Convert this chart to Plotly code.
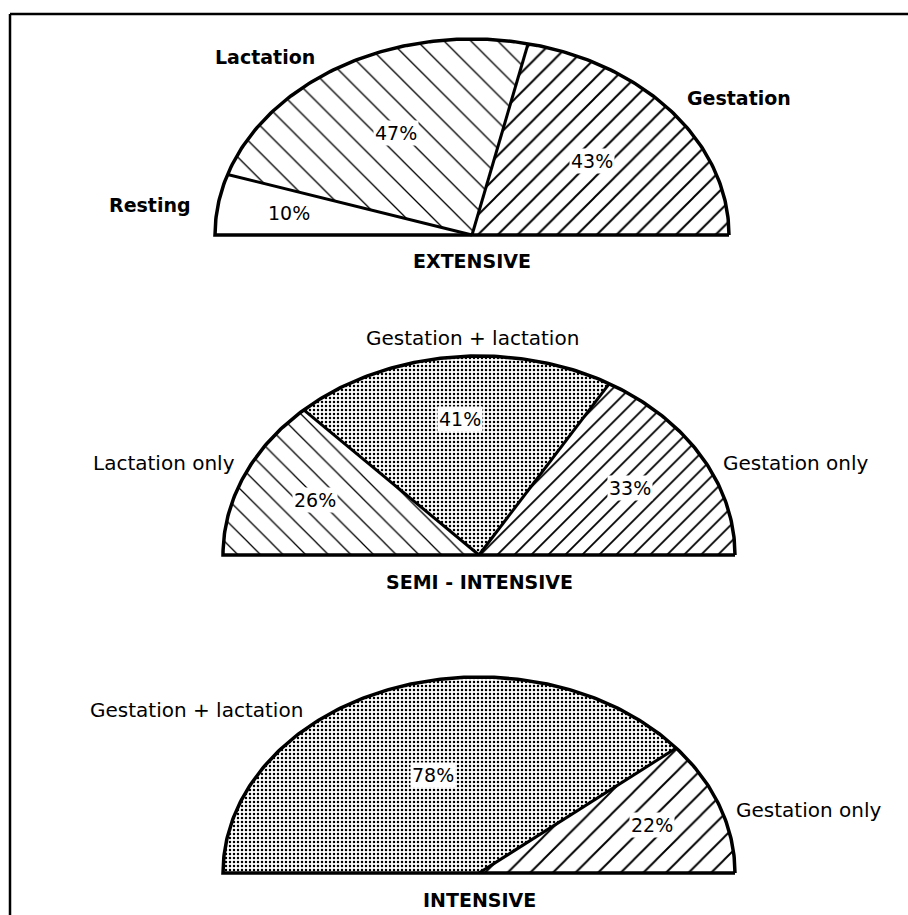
import numpy as np
import plotly.graph_objects as go

# ---------------- data ----------------
extensive_labels = ["Resting", "Lactation", "Gestation"]
extensive_values = [10, 47, 43]

semi_labels = ["Lactation only", "Gestation + lactation", "Gestation only"]
semi_values = [26, 41, 33]

intensive_labels = ["Gestation + lactation", "Gestation only"]
intensive_values = [78, 22]

chart_titles = ["EXTENSIVE", "SEMI - INTENSIVE", "INTENSIVE"]

# ---------------- styles / layout ----------------
W, H = 908, 915
FONT = "DejaVu Sans"

NONE = None
BACK = dict(shape="\\", size=19, solidity=0.07)
BACK2 = dict(shape="\\", size=16, solidity=0.08)
FWD = dict(shape="/", size=14, solidity=0.14)
FWD2 = dict(shape="/", size=12, solidity=0.15)
FWD3 = dict(shape="/", size=16, solidity=0.12)
DOTS = dict(shape=".", size=4, solidity=0.3)

charts = [
    dict(labels=extensive_labels, values=extensive_values, title=chart_titles[0],
         cx=472, cy=235, rx=257, ry=196,
         patterns=[NONE, BACK, FWD], label_r=[0.72, 0.6, 0.6],
         title_y=261, title_bold=True,
         names=[dict(x=193, y=205, xanchor="right"),
                dict(x=265, y=57, xanchor="center"),
                dict(x=685, y=98, xanchor="left")],
         name_bold=True, name_size=19),
    dict(labels=semi_labels, values=semi_values, title=chart_titles[1],
         cx=479, cy=555, rx=256, ry=199,
         patterns=[BACK2, DOTS, FWD2], label_r=[0.7, 0.69, 0.68],
         title_y=582, title_bold=True,
         names=[dict(x=237, y=463, xanchor="right"),
                dict(x=472, y=338, xanchor="center"),
                dict(x=721, y=463, xanchor="left")],
         name_bold=False, name_size=20),
    dict(labels=intensive_labels, values=intensive_values, title=chart_titles[2],
         cx=479, cy=873, rx=256, ry=196,
         patterns=[DOTS, FWD3], label_r=[0.53, 0.72],
         title_y=900, title_bold=True,
         names=[dict(x=305, y=710, xanchor="right"),
                dict(x=734, y=810, xanchor="left")],
         name_bold=False, name_size=20),
]

fig = go.Figure()
annotations = []

def ell(cx, cy, rx, ry, th):
    return cx + rx * np.cos(th), cy - ry * np.sin(th)

for ch in charts:
    cx, cy, rx, ry = ch["cx"], ch["cy"], ch["rx"], ch["ry"]
    total = float(sum(ch["values"]))
    start = np.pi  # slices run left (180deg) to right (0deg)
    bounds = []
    for i, v in enumerate(ch["values"]):
        sweep = np.pi * v / total
        a0, a1 = start, start - sweep
        th = np.linspace(a0, a1, 120)
        ax, ay = ell(cx, cy, rx, ry, th)
        xs = np.concatenate([[cx], ax, [cx]])
        ys = np.concatenate([[cy], ay, [cy]])
        pat = ch["patterns"][i]
        kw = dict(x=xs, y=ys, mode="lines", fill="toself", line=dict(width=0, color="black"),
                  fillcolor="white", hoverinfo="skip", showlegend=False)
        if pat is not None:
            kw["fillpattern"] = dict(shape=pat["shape"], size=pat["size"], solidity=pat["solidity"],
                                     fgcolor="black", bgcolor="white", fillmode="replace")
        fig.add_trace(go.Scatter(**kw))
        # percentage label at mid-angle
        mid = (a0 + a1) / 2
        lx, ly = ell(cx, cy, rx * ch["label_r"][i], ry * ch["label_r"][i], mid)
        annotations.append(dict(x=lx, y=ly, xref="x", yref="y", text=f"{v}%", showarrow=False,
                                font=dict(family=FONT, size=19, color="black"),
                                bgcolor="white", borderpad=1))
        if i < len(ch["values"]) - 1:
            bounds.append(a1)
        start = a1
    # dividers
    for b in bounds:
        bx, by = ell(cx, cy, rx, ry, b)
        fig.add_trace(go.Scatter(x=[cx, bx], y=[cy, by], mode="lines",
                                 line=dict(color="black", width=3), hoverinfo="skip",
                                 showlegend=False))
    # outline: arc + base
    th = np.linspace(0, np.pi, 240)
    ox, oy = ell(cx, cy, rx, ry, th)
    ox = np.concatenate([ox, [cx + rx]])
    oy = np.concatenate([oy, [cy]])
    fig.add_trace(go.Scatter(x=ox, y=oy, mode="lines", line=dict(color="black", width=3.5),
                             hoverinfo="skip", showlegend=False))
    # category names
    for lab, pos in zip(ch["labels"], ch["names"]):
        txt = f"<b>{lab}</b>" if ch["name_bold"] else lab
        annotations.append(dict(x=pos["x"], y=pos["y"], xref="x", yref="y", text=txt,
                                showarrow=False, xanchor=pos["xanchor"], yanchor="middle",
                                font=dict(family=FONT, size=ch["name_size"], color="black")))
    # title
    ttxt = f"<b>{ch['title']}</b>" if ch["title_bold"] else ch["title"]
    annotations.append(dict(x=cx, y=ch["title_y"], xref="x", yref="y", text=ttxt,
                            showarrow=False, font=dict(family=FONT, size=19, color="black")))

fig.update_layout(
    width=W, height=H, autosize=False,
    margin=dict(l=0, r=0, t=0, b=0, pad=0),
    paper_bgcolor="white", plot_bgcolor="white",
    xaxis=dict(range=[0, W], visible=False, fixedrange=True),
    yaxis=dict(range=[H, 0], visible=False, fixedrange=True),
    annotations=annotations,
    hovermode=False,
    shapes=[
        dict(type="line", xref="paper", yref="paper", x0=10 / W, x1=1, y0=1 - 14 / H, y1=1 - 14 / H,
             line=dict(color="black", width=2.5)),
        dict(type="line", xref="paper", yref="paper", x0=10 / W, x1=10 / W, y0=0, y1=1 - 14 / H,
             line=dict(color="black", width=2.5)),
    ],
)

fig.write_html(
    "out.html",
    config={"displayModeBar": False},
    post_script="document.body.style.margin='0';document.body.style.padding='0';"
                "document.body.style.overflow='hidden';",
)
